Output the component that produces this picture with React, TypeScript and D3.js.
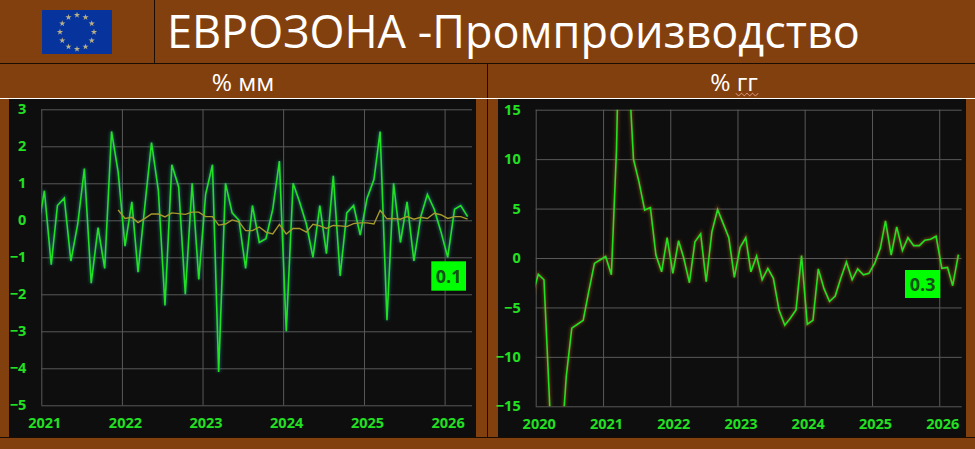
import React, { useEffect, useRef } from "react";
import * as d3 from "d3";

// % mm, Dec 2020 .. Apr 2026 (first point sits left of the plot and gets clipped)
const momStart = [2020, 11];
const momValues = [
  -0.3,
  0.8, -1.2, 0.4, 0.6, -1.1, -0.1, 1.4, -1.7, -0.2, -1.3, 2.4, 1.3,
  -0.7, 0.5, -1.4, 0.4, 2.1, 0.8, -2.3, 1.5, 0.9, -2.0, 1.0, -1.6,
  0.7, 1.5, -4.1, 1.0, 0.2, 0.0, -1.3, 0.4, -0.6, -0.5, 0.3, 1.6,
  -3.0, 1.0, 0.5, -0.1, -1.0, 0.4, -0.9, 1.2, -1.5, 0.2, 0.4, -0.4,
  0.6, 1.1, 2.4, -2.7, 1.0, -0.6, 0.5, -1.1, 0.1, 0.7, 0.3, -0.3,
  -1.0, 0.3, 0.4, 0.1,
];
// average line, Dec 2021 .. Apr 2026
const avgStart = [2021, 11];
const avgValues = [
  0.28,
  0.05, 0.08, -0.06, 0.05, 0.17, 0.17, 0.09, 0.2, 0.18, 0.16, 0.22, 0.22,
  0.1, 0.1, -0.13, -0.1, 0.01, -0.04, -0.28, -0.28, -0.18, -0.32, -0.37, -0.11,
  -0.37, -0.22, -0.22, -0.32, -0.11, -0.15, -0.22, -0.14, -0.15, -0.17, -0.09, -0.07,
  -0.07, -0.1, 0.27, 0.04, 0.05, 0.03, 0.1, 0.03, 0.08, 0.05, 0.19, 0.15,
  0.05, 0.1, 0.1, 0.03,
];
// % yy, Dec 2019 .. Apr 2026
const yoyStart = [2019, 11];
const yoyValues = [
  -3.7,
  -1.65, -2.2, -14, -28, -20.5, -12, -7.1, -6.7, -6.3, -3.4, -0.55, -0.2,
  0.15, -1.7, 11, 39, 21, 10, 7.7, 4.85, 5.1, 0.3, -1.4, 2.05,
  -1.55, 1.75, 0, -2.5, 1.65, 2.45, -2.4, 2.65, 4.9, 3.5, 2.05, -1.95,
  1.05, 2.05, -1.4, 0.2, -2.2, -1.05, -2.05, -5.3, -6.8, -6.1, -5.25, 0.25,
  -6.7, -6.3, -1.1, -3.1, -4.4, -3.85, -2.05, -0.4, -2.2, -1.1, -1.7, -1.55,
  -0.55, 1.0, 3.75, 0.3, 3.15, 0.75, 2.05, 1.25, 1.25, 1.8, 1.9, 2.2,
  -1.05, -0.95, -2.8, 0.35,
];
const momTicks = [3, 2, 1, 0, -1, -2, -3, -4, -5];
const yoyTicks = [15, 10, 5, 0, -5, -10, -15];
const momYears = [2021, 2022, 2023, 2024, 2025, 2026];
const yoyYears = [2020, 2021, 2022, 2023, 2024, 2025, 2026];

const BROWN = "#83400f";
const PANEL = "#0e0e0e";
const GRID = "#595959";
const GREEN = "#22e022";
const FONT = "'Open Sans', sans-serif";

type Pt = { date: Date; value: number };

// monthly points sit at mid month
function toSeries(start: number[], values: number[]): Pt[] {
  return values.map((value, i) => ({
    date: new Date(start[0], start[1] + i, 15),
    value,
  }));
}

function drawChart(
  root: d3.Selection<SVGSVGElement, unknown, null, undefined>,
  opt: {
    id: string;
    left: number;
    right: number;
    top: number;
    bottom: number;
    years: number[];
    ticks: number[];
    domainEnd: Date;
    glow: string;
    series: { data: Pt[]; color: string; width: number; glow: boolean }[];
    badge: { x: number; y: number; w: number; h: number; text: string };
  }
) {
  const x = d3
    .scaleTime()
    .domain([new Date(opt.years[0], 0, 1), opt.domainEnd])
    .range([opt.left, opt.right]);
  const y = d3
    .scaleLinear()
    .domain(d3.extent(opt.ticks) as [number, number])
    .range([opt.bottom, opt.top]);

  const g = root.append("g");

  g.append("clipPath")
    .attr("id", opt.id + "-clip")
    .append("rect")
    .attr("x", opt.left)
    .attr("y", opt.top)
    .attr("width", opt.right - opt.left)
    .attr("height", opt.bottom - opt.top);

  const yAxis = g
    .append("g")
    .attr("transform", `translate(${opt.left},0)`)
    .call(
      d3
        .axisLeft(y)
        .tickValues(opt.ticks)
        .tickFormat(d3.format("d") as any)
        .tickSize(-(opt.right - opt.left))
        .tickPadding(15)
    );
  const xAxis = g
    .append("g")
    .attr("transform", `translate(0,${opt.bottom})`)
    .call(
      d3
        .axisBottom(x)
        .tickValues(opt.years.map((yr) => new Date(yr, 0, 1)))
        .tickFormat(d3.timeFormat("%Y") as any)
        .tickSize(-(opt.bottom - opt.top))
    );
  xAxis.selectAll("text").attr("dx", 3).attr("y", 12);
  [yAxis, xAxis].forEach((axis: any) => {
    axis.select(".domain").remove();
    axis.selectAll("line").attr("stroke", GRID).attr("stroke-width", 1);
    axis
      .selectAll("text")
      .attr("fill", GREEN)
      .style("font", `bold 14.5px ${FONT}`);
  });

  const line = d3
    .line<Pt>()
    .x((d) => x(d.date))
    .y((d) => y(d.value));

  const lines = g.append("g").attr("clip-path", `url(#${opt.id}-clip)`);
  opt.series.forEach((s) => {
    if (s.glow) {
      lines
        .append("path")
        .attr("d", line(s.data))
        .attr("fill", "none")
        .attr("stroke", opt.glow)
        .attr("stroke-width", 3.5)
        .attr("stroke-opacity", 0.45)
        .attr("filter", "url(#soft)");
    }
    lines
      .append("path")
      .attr("d", line(s.data))
      .attr("fill", "none")
      .attr("stroke", s.color)
      .attr("stroke-width", s.width)
      .attr("stroke-linejoin", "miter");
  });

  g.append("rect")
    .attr("x", opt.badge.x)
    .attr("y", opt.badge.y)
    .attr("width", opt.badge.w)
    .attr("height", opt.badge.h)
    .attr("fill", "#00ff00");
  g.append("text")
    .attr("x", opt.badge.x + opt.badge.w / 2)
    .attr("y", opt.badge.y + opt.badge.h / 2 + 6.5)
    .attr("text-anchor", "middle")
    .attr("fill", "#14501a")
    .style("font", `bold 18px ${FONT}`)
    .text(opt.badge.text);
}

export default function App() {
  const ref = useRef<SVGSVGElement>(null);

  useEffect(() => {
    const svg = d3.select(ref.current!);
    svg.selectAll("*").remove();

    const defs = svg.append("defs");
    defs
      .append("filter")
      .attr("id", "soft")
      .attr("filterUnits", "userSpaceOnUse")
      .attr("x", 0)
      .attr("y", 0)
      .attr("width", 975)
      .attr("height", 449)
      .append("feGaussianBlur")
      .attr("stdDeviation", 1.6);

    svg.append("rect").attr("width", 975).attr("height", 449).attr("fill", BROWN);

    // panels
    svg.append("rect").attr("x", 9).attr("y", 99).attr("width", 467).attr("height", 338).attr("fill", PANEL);
    svg.append("rect").attr("x", 498).attr("y", 99).attr("width", 468).attr("height", 338).attr("fill", PANEL);

    // table rules
    const rule = (x1: number, y1: number, x2: number, y2: number, c = "#1a0d04") =>
      svg.append("line").attr("x1", x1).attr("y1", y1).attr("x2", x2).attr("y2", y2).attr("stroke", c).attr("stroke-width", 1);
    rule(0, 63.5, 975, 63.5);
    rule(154.5, 0, 154.5, 63);
    rule(487.5, 64, 487.5, 437);
    rule(0, 98.5, 975, 98.5, "#ffffff");
    rule(0, 437.5, 975, 437.5);

    // flag
    svg.append("rect").attr("x", 42).attr("y", 10).attr("width", 70).attr("height", 44).attr("fill", "#07349c");
    const star = d3.symbol().type(d3.symbolStar).size(12);
    d3.range(12).forEach((i) => {
      const a = (i * Math.PI) / 6;
      svg
        .append("path")
        .attr("d", star())
        .attr("fill", "#b9b088")
        .attr("transform", `translate(${77 + 17 * Math.sin(a)},${32 - 17 * Math.cos(a)})`);
    });

    // heads
    svg.append("text").attr("x", 167).attr("y", 48).attr("fill", "#fff")
      .style("font", `45px ${FONT}`).text("ЕВРОЗОНА -Промпроизводство");
    svg.append("text").attr("x", 243).attr("y", 91).attr("text-anchor", "middle").attr("fill", "#fff")
      .style("font", `24.5px ${FONT}`).text("% мм");
    svg.append("text").attr("x", 734).attr("y", 91).attr("text-anchor", "middle").attr("fill", "#fff")
      .style("font", `24.5px ${FONT}`).text("% гг");

    // spell check wave under the second head
    const wave = d3.line<number>()
      .x((d) => 736 + d * 2.75)
      .y((d) => 94.5 + (d % 2 ? 1.2 : -1.2))
      .curve(d3.curveMonotoneX);
    svg.append("path").attr("d", wave(d3.range(9)))
      .attr("fill", "none").attr("stroke", "#e8a08a").attr("stroke-width", 1);

    drawChart(svg, {
      id: "mom",
      left: 41.3,
      right: 472,
      top: 109.3,
      bottom: 405.3,
      years: momYears,
      ticks: momTicks,
      domainEnd: new Date(2026, 4, 5),
      glow: "#1f8f9a",
      series: [
        { data: toSeries(momStart, momValues), color: GREEN, width: 1.6, glow: true },
        { data: toSeries(avgStart, avgValues), color: "#a69a2c", width: 1.4, glow: false },
      ],
      badge: { x: 431.3, y: 261.3, w: 34.7, h: 29.4, text: "0.1" },
    });

    drawChart(svg, {
      id: "yoy",
      left: 535.7,
      right: 961.7,
      top: 109.7,
      bottom: 406.3,
      years: yoyYears,
      ticks: yoyTicks,
      domainEnd: new Date(2026, 4, 3),
      glow: "#b5611a",
      series: [{ data: toSeries(yoyStart, yoyValues), color: GREEN, width: 1.6, glow: true }],
      badge: { x: 905, y: 270, w: 35.3, h: 28, text: "0.3" },
    });
  }, []);

  return (
    <svg
      ref={ref}
      width={975}
      height={449}
      style={{ position: "absolute", left: 0, top: 0 }}
    />
  );
}
